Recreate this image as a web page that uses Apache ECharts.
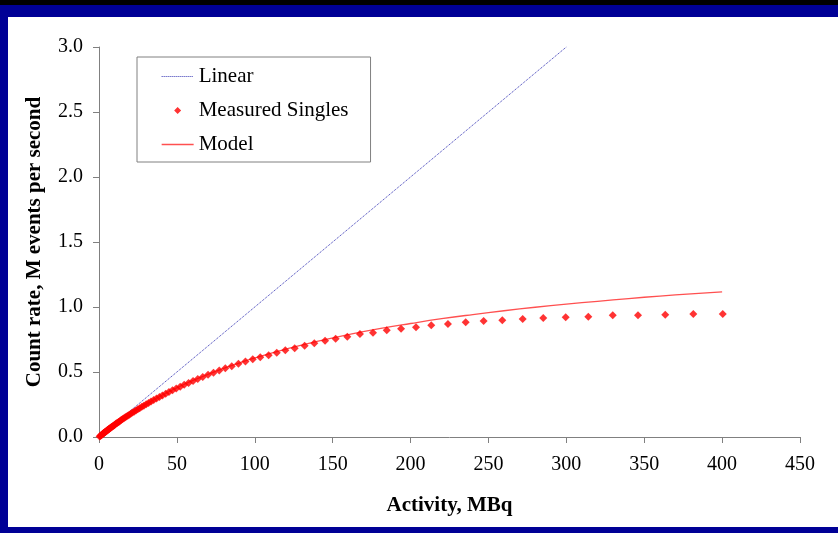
<!DOCTYPE html>
<html>
<head>
<meta charset="utf-8">
<script src="https://cdn.jsdelivr.net/npm/echarts@6/dist/echarts.min.js"></script>
<style>
html,body{margin:0;padding:0;background:#fff;}
#chart{width:838px;height:533px;}
</style>
</head>
<body>
<div id="chart"></div>
<script>
// Linear reference line (activity MBq, count rate M/s)
const linearX = [0, 300];
const linearY = [0, 3.0];

// Measured singles
const measuredX = [0.4, 0.8, 1.2, 1.6, 2.0, 2.3, 2.6, 2.9, 3.2, 3.5, 3.8, 4.1, 4.4, 4.7, 5.0, 5.3, 5.6, 5.9, 6.2, 6.6, 6.9, 7.3, 7.6, 8.0, 8.4, 8.8, 9.3, 9.7, 10.2, 10.8, 11.3, 11.9, 12.5, 13.1, 13.8, 14.5, 15.2, 16.0, 16.8, 17.6, 18.5, 19.4, 20.4, 21.5, 22.5, 23.7, 24.9, 26.1, 27.5, 28.8, 30.3, 31.8, 33.4, 35.1, 36.9, 38.8, 40.7, 42.8, 44.9, 47.2, 49.6, 52.1, 54.7, 57.5, 60.4, 63.4, 66.6, 70.0, 73.5, 77.2, 81.1, 85.2, 89.5, 94.0, 98.7, 103.5, 108.9, 114.1, 119.6, 125.6, 132.0, 138.2, 145.1, 151.9, 159.4, 167.5, 175.9, 184.7, 193.9, 203.5, 213.3, 224.0, 235.4, 246.9, 258.9, 272.0, 285.2, 299.6, 314.1, 329.8, 346.0, 363.5, 381.5, 400.4];
const measuredY = [0.004, 0.008, 0.012, 0.016, 0.020, 0.023, 0.026, 0.028, 0.031, 0.034, 0.037, 0.040, 0.043, 0.045, 0.048, 0.051, 0.054, 0.057, 0.059, 0.063, 0.066, 0.069, 0.072, 0.076, 0.079, 0.083, 0.087, 0.091, 0.095, 0.101, 0.105, 0.110, 0.115, 0.120, 0.126, 0.132, 0.138, 0.144, 0.151, 0.157, 0.164, 0.171, 0.179, 0.188, 0.195, 0.204, 0.213, 0.222, 0.232, 0.241, 0.252, 0.262, 0.273, 0.284, 0.296, 0.308, 0.320, 0.333, 0.346, 0.359, 0.373, 0.387, 0.401, 0.416, 0.431, 0.446, 0.462, 0.478, 0.494, 0.511, 0.528, 0.545, 0.563, 0.580, 0.598, 0.613, 0.628, 0.648, 0.667, 0.682, 0.702, 0.721, 0.741, 0.756, 0.772, 0.792, 0.802, 0.821, 0.833, 0.844, 0.859, 0.869, 0.882, 0.892, 0.898, 0.908, 0.915, 0.921, 0.925, 0.936, 0.936, 0.941, 0.946, 0.946];

// Model curve
const modelX = [0, 10, 20, 30, 40, 50, 60, 70, 80, 90, 100, 120, 140, 160, 180, 200, 220, 240, 260, 280, 300, 320, 340, 360, 380, 400];
const modelY = [0, 0.094, 0.177, 0.251, 0.318, 0.378, 0.433, 0.482, 0.528, 0.569, 0.608, 0.676, 0.736, 0.787, 0.833, 0.873, 0.910, 0.942, 0.971, 0.998, 1.022, 1.044, 1.065, 1.084, 1.101, 1.117];

// Axis ticks
const xTicks = {min: 0, max: 450, interval: 50};
const yTicks = {min: 0, max: 3.0, interval: 0.5};

const zip = (xs, ys) => xs.map((x, i) => [x, ys[i]]);

const chart = echarts.init(document.getElementById('chart'), null, {renderer: 'canvas'});
const serif = '"Liberation Serif", "Times New Roman", serif';
const navy = '#000096';
const diamondIcon = 'path://M16,0.5 L19.5,4 L16,7.5 L12.5,4 Z M0,0 L0.01,0 Z M32,8 L31.99,8 Z';

chart.setOption({
  animation: false,
  backgroundColor: '#ffffff',
  textStyle: {fontFamily: serif},
  grid: {left: 99, right: 38, top: 47, bottom: 96, containLabel: false},
  graphic: [
    {type: 'rect', shape: {x: 0, y: 0, width: 838, height: 5}, style: {fill: '#000000'}, silent: true, z: 100},
    {type: 'rect', shape: {x: 0, y: 5, width: 838, height: 12}, style: {fill: navy}, silent: true, z: 100},
    {type: 'rect', shape: {x: 0, y: 5, width: 8, height: 528}, style: {fill: navy}, silent: true, z: 100},
    {type: 'rect', shape: {x: 0, y: 527, width: 838, height: 6}, style: {fill: navy}, silent: true, z: 100}
  ],
  legend: {
    left: 137, top: 57,
    orient: 'vertical',
    backgroundColor: '#ffffff',
    borderColor: '#808080', borderWidth: 1,
    padding: [9, 22, 7, 24],
    itemGap: 13,
    itemWidth: 32, itemHeight: 8,
    textStyle: {fontFamily: serif, fontSize: 21, color: '#000', lineHeight: 21},
    data: [
      {name: 'Linear', itemStyle: {opacity: 0}, lineStyle: {color: '#3333b3', width: 1, type: 'dotted', opacity: 1}},
      {name: 'Measured Singles', icon: diamondIcon, itemStyle: {color: '#ff0000'}},
      {name: 'Model', itemStyle: {opacity: 0}, lineStyle: {color: '#ff5050', width: 1.3, opacity: 1}}
    ]
  },
  xAxis: {
    type: 'value',
    min: xTicks.min, max: xTicks.max, interval: xTicks.interval,
    name: 'Activity, MBq',
    nameLocation: 'middle', nameGap: 58,
    nameTextStyle: {fontFamily: serif, fontSize: 21, fontWeight: 'bold', color: '#000'},
    axisLine: {show: true, lineStyle: {color: '#808080', width: 1}},
    axisTick: {show: true, inside: false, length: 6, lineStyle: {color: '#808080'}},
    axisLabel: {fontFamily: serif, fontSize: 20, color: '#000', margin: 18},
    splitLine: {show: false}
  },
  yAxis: {
    type: 'value',
    min: yTicks.min, max: yTicks.max, interval: yTicks.interval,
    name: 'Count rate, M events per second',
    nameLocation: 'middle', nameGap: 54, nameRotate: 90,
    nameTextStyle: {fontFamily: serif, fontSize: 21, fontWeight: 'bold', color: '#000'},
    axisLine: {show: true, lineStyle: {color: '#808080', width: 1}},
    axisTick: {show: true, inside: false, length: 6, lineStyle: {color: '#808080'}},
    axisLabel: {fontFamily: serif, fontSize: 20, color: '#000', margin: 16, formatter: v => v.toFixed(1)},
    splitLine: {show: false}
  },
  series: [
    {
      name: 'Linear', type: 'line',
      data: zip(linearX, linearY),
      showSymbol: false, symbol: 'none',
      lineStyle: {color: '#3333b3', width: 1, type: 'dotted'},
      itemStyle: {color: '#3333b3'},
      z: 2
    },
    {
      name: 'Measured Singles', type: 'scatter',
      data: zip(measuredX, measuredY),
      symbol: 'diamond', symbolSize: 8,
      itemStyle: {color: '#ff0000'},
      z: 4
    },
    {
      name: 'Model', type: 'line',
      data: zip(modelX, modelY),
      showSymbol: false, symbol: 'none', smooth: true,
      lineStyle: {color: '#ff5050', width: 1.3},
      itemStyle: {color: '#ff5050'},
      z: 3
    }
  ]
});
</script>
</body>
</html>
